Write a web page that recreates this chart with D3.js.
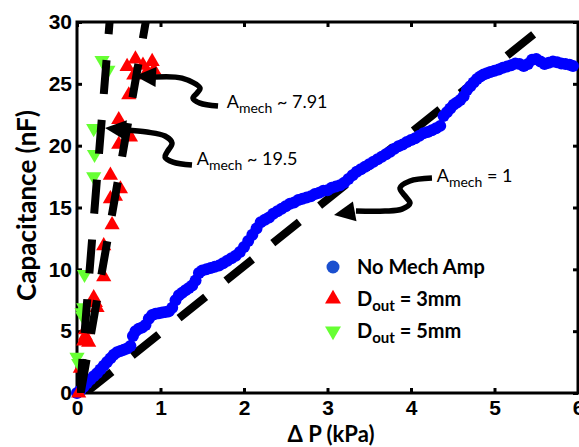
<!DOCTYPE html>
<html>
<head>
<meta charset="utf-8">
<script src="https://cdn.jsdelivr.net/npm/d3@7"></script>
<style>
	body { margin:0; background:#fff; }
	svg { display:block; }
	.tick text { font-family:"Liberation Sans", Arial, sans-serif; font-weight:bold; font-size:21px; fill:#000; }
	.tick line { stroke:#000; stroke-width:3; }
	.title { font-family:Lato, "Open Sans", sans-serif; font-weight:bold; fill:#000; }
	.note { font-family:Lato, "Open Sans", sans-serif; fill:#000; }
</style>
</head>
<body>
<svg width="579" height="447"></svg>
<script>
// no mechanical amplifier (blue circles)
var noAmpP = [0.00,0.04,0.08,0.12,0.16,0.20,0.24,0.28,0.32,0.36,0.40,0.44,0.48,0.52,0.56,0.60,0.64,0.67,0.70,0.74,
	0.78,0.82,0.86,0.90,0.94,0.98,1.02,1.06,1.10,1.14,1.18,1.22,1.26,1.30,1.34,1.38,1.42,1.46,1.50,1.55,
	1.60,1.65,1.70,1.75,1.80,1.85,1.90,1.95,2.00,2.05,2.10,2.15,2.20,2.25,2.30,2.35,2.40,2.45,2.50,2.55,
	2.60,2.65,2.70,2.75,2.80,2.85,2.90,2.95,3.00,3.05,3.10,3.15,3.20,3.25,3.30,3.35,3.40,3.45,3.50,3.55,
	3.60,3.65,3.70,3.75,3.80,3.85,3.90,3.95,4.00,4.05,4.10,4.15,4.20,4.25,4.30,4.35,4.39,4.43,4.47,4.51,
	4.55,4.59,4.63,4.67,4.71,4.75,4.79,4.83,4.87,4.91,4.95,5.00,5.05,5.10,5.15,5.20,5.25,5.30,5.35,5.40,
	5.45,5.50,5.55,5.60,5.65,5.70,5.75,5.80,5.85,5.90,5.94];
var noAmpC = [0.0,0.2,0.5,0.8,1.1,1.35,1.6,1.9,2.2,2.5,2.8,3.1,3.3,3.4,3.5,3.6,3.8,4.6,5.0,5.2,
	5.3,5.5,6.0,6.3,6.4,6.45,6.5,6.55,6.6,6.9,7.5,7.9,8.1,8.3,8.5,8.7,9.1,9.7,9.9,10.0,
	10.1,10.2,10.3,10.5,10.7,10.9,11.1,11.4,11.8,12.3,12.8,13.3,13.8,14.0,14.2,14.5,14.7,14.9,15.1,15.3,
	15.4,15.6,15.7,15.8,15.9,16.1,16.2,16.35,16.4,16.6,16.7,16.8,17.0,17.3,17.6,17.9,18.1,18.3,18.5,18.7,
	18.9,19.1,19.3,19.5,19.75,19.95,20.1,20.3,20.45,20.6,20.8,21.0,21.1,21.25,21.4,21.6,22.4,22.7,23.0,23.3,
	23.5,23.7,24.0,24.5,24.8,25.1,25.4,25.6,25.75,25.85,25.95,26.05,26.15,26.3,26.4,26.5,26.65,26.6,26.45,26.6,
	26.95,27.0,26.8,26.6,26.7,26.8,26.75,26.65,26.6,26.55,26.45];

// D_out = 3mm (red triangles)
var d3mmP = [0.02,0.04,0.08,0.10,0.14,0.10,0.20,0.24,0.22,0.32,0.32,0.42,0.40,0.40,0.46,0.52,0.50,0.50,0.60,0.64,
	0.62,0.60,0.68,0.70,0.79,0.90,0.92,0.84];
var d3mmC = [0.0,2.0,4.2,4.6,4.1,5.1,7.7,6.9,7.3,9.4,11.9,13.6,15.7,17.6,15.9,16.5,20.1,22.1,21.1,20.7,
	24.1,26.4,25.7,27.0,26.5,26.8,26.1,26.0];

// D_out = 5mm (green triangles)
var d5mmP = [0.00,0.02,0.06,0.08,0.07,0.09,0.20,0.21,0.20,0.30,0.37];
var d5mmC = [2.9,2.4,6.5,6.9,6.2,9.6,17.5,19.3,21.4,26.9,26.1];

// dashed linear fits: C = slope * (P - start)
var fitSlope = [5.4, 38.5, 84];
var fitStart = [0.1, 0.044, 0.033];
var fitEnd = [29.3, 31, 31];

var xTicks = [0,1,2,3,4,5,6];
var yTicks = [0,5,10,15,20,25,30];

var legendNames = ["No Mech Amp", "D|out| = 3mm", "D|out| = 5mm"];
var legendColors = ["#1a4fcf", "#ff0000", "#66ff33"];

// annotations, in data units
var noteRest = [" ~ 7.91", " ~ 19.5", " = 1"];
var noteAt = [[1.793,23.04],[1.434,18.43],[4.308,17.1]];
var arrowPaths = [
	[[1.689,23.20],[1.473,23.44],[1.389,23.85],[1.437,24.25],[1.473,24.66],[1.257,25.46],[0.934,25.55]],
	[[1.377,18.43],[1.150,18.67],[1.054,19.08],[1.078,19.48],[1.138,20.21],[1.054,20.78],[0.838,21.10],[0.575,21.26]],
	[[4.251,17.38],[3.988,17.14],[3.868,16.57],[3.940,15.84],[3.988,15.36],[3.892,14.87],[3.689,14.71],[3.341,14.71]]
];
var arrowTips = [[0.695,25.63],[0.335,21.42],[3.078,14.39]];

window.capChart = {
	svg : null,
	load:function(){
		var svg = this.svg = d3.select("svg");
		var x = this.x = d3.scaleLinear().domain([0,6]).range([77,578]);
		var y = this.y = d3.scaleLinear().domain([0,30]).range([393,22]);

		svg.append("defs").append("clipPath").attr("id","plotClip")
			.append("rect")
			.attr("x", x(0)).attr("y", y(30))
			.attr("width", x(6)-x(0)).attr("height", y(0)-y(30));

		this.axes();
		this.fits(0);
		this.points();
		this.fits(1);
		this.fits(2);
		this.notes();
		this.legend();
	},
	axes:function(){
		var svg = this.svg, x = this.x, y = this.y;
		var fmt = d3.format("d");

		svg.append("g").attr("transform","translate(0,"+y(0)+")")
			.call(d3.axisBottom(x).tickValues(xTicks).tickFormat(fmt).tickSizeInner(-5).tickSizeOuter(0).tickPadding(7))
			.call(function(g){ g.select(".domain").remove(); });
		svg.append("g").attr("transform","translate("+x(0)+",0)")
			.call(d3.axisLeft(y).tickValues(yTicks).tickFormat(fmt).tickSizeInner(-5).tickSizeOuter(0).tickPadding(5))
			.call(function(g){ g.select(".domain").remove(); });
		svg.append("g").attr("transform","translate(0,"+y(30)+")")
			.call(d3.axisTop(x).tickValues(xTicks).tickSizeInner(-5).tickSizeOuter(0).tickFormat(""))
			.call(function(g){ g.select(".domain").remove(); });
		svg.append("g").attr("transform","translate("+x(6)+",0)")
			.call(d3.axisRight(y).tickValues(yTicks).tickSizeInner(-5).tickSizeOuter(0).tickFormat(""))
			.call(function(g){ g.select(".domain").remove(); });

		svg.append("rect")
			.attr("x", x(0)).attr("y", y(30))
			.attr("width", x(6)-x(0)).attr("height", y(0)-y(30))
			.attr("fill","none").attr("stroke","#000").attr("stroke-width",3);

		svg.append("text").attr("class","title")
			.attr("transform","translate(36,"+(y(15)-2)+") rotate(-90)")
			.attr("text-anchor","middle")
			.style("font-size","26px")
			.text("Capacitance (nF)");

		svg.append("text").attr("class","title")
			.attr("x", 331).attr("y", 442)
			.attr("text-anchor","middle")
			.style("font-size","22px")
			.text("\u0394 P (kPa)");
	},
	fits:function(i){
		var x = this.x, y = this.y;
		var p0 = fitStart[i], p1 = fitStart[i] + fitEnd[i]/fitSlope[i];
		this.svg.append("line")
			.attr("clip-path","url(#plotClip)")
			.attr("x1", x(p0)).attr("y1", y(0))
			.attr("x2", x(p1)).attr("y2", y(fitEnd[i]))
			.attr("stroke","#000")
			.attr("stroke-width",8)
			.attr("stroke-dasharray","34,26");
	},
	points:function(){
		var x = this.x, y = this.y;
		this.svg.append("g").selectAll("circle")
			.data(d3.zip(noAmpP, noAmpC))
			.join("circle")
			.attr("cx", function(d){ return x(d[0]); })
			.attr("cy", function(d){ return y(d[1]); })
			.attr("r", 6)
			.attr("fill","#0000ff");

		var tri = d3.symbol(d3.symbolTriangle, 100);
		this.svg.append("g").selectAll("path")
			.data(d3.zip(d3mmP, d3mmC))
			.join("path")
			.attr("d", tri)
			.attr("transform", function(d){ return "translate("+x(d[0])+","+y(d[1])+")"; })
			.attr("fill","#ff0000");
		this.svg.append("g").selectAll("path")
			.data(d3.zip(d5mmP, d5mmC))
			.join("path")
			.attr("d", tri)
			.attr("transform", function(d){ return "translate("+x(d[0])+","+y(d[1])+") rotate(180)"; })
			.attr("fill","#66ff33");
	},
	notes:function(){
		var svg = this.svg, x = this.x, y = this.y;
		var line = d3.line()
			.x(function(d){ return x(d[0]); })
			.y(function(d){ return y(d[1]); })
			.curve(d3.curveCatmullRom);

		arrowPaths.forEach(function(pts, i){
			svg.append("path")
				.attr("d", line(pts))
				.attr("fill","none")
				.attr("stroke","#000")
				.attr("stroke-width",5.5);
			var b = pts[pts.length-1], t = arrowTips[i];
			var bx = x(b[0]), by = y(b[1]), tx = x(t[0]), ty = y(t[1]);
			var a = Math.atan2(ty-by, tx-bx);
			var hx = tx - 21*Math.cos(a), hy = ty - 21*Math.sin(a);
			var w = 10;
			svg.append("path")
				.attr("d", "M"+tx+","+ty+"L"+(hx - w*Math.sin(a))+","+(hy + w*Math.cos(a))
					+"L"+(hx + w*Math.sin(a))+","+(hy - w*Math.cos(a))+"Z")
				.attr("fill","#000");
		});

		noteRest.forEach(function(r, i){
			var t = svg.append("text").attr("class","note")
				.attr("x", x(noteAt[i][0])).attr("y", y(noteAt[i][1]))
				.style("font-size","18px");
			t.append("tspan").text("A");
			t.append("tspan").attr("dy",5).style("font-size","14px").text("mech");
			t.append("tspan").attr("dy",-5).text(r);
		});
	},
	legend:function(){
		var svg = this.svg;
		var g = svg.append("g").attr("transform","translate(333,267)");
		legendNames.forEach(function(name, i){
			var row = g.append("g").attr("transform","translate(0,"+(i*32)+")");
			if(i == 0){
				row.append("circle").attr("r",6.5).attr("fill",legendColors[0]);
			} else {
				row.append("path")
					.attr("d", d3.symbol(d3.symbolTriangle, 110)())
					.attr("transform", i == 2 ? "rotate(180)" : null)
					.attr("fill", legendColors[i]);
			}
			var parts = name.split("|");
			var t = row.append("text").attr("class","title")
				.attr("x",24).attr("y",7)
				.style("font-size","20px");
			t.append("tspan").text(parts[0]);
			if(parts.length > 1){
				t.append("tspan").attr("dy",5).style("font-size","15px").text(parts[1]);
				t.append("tspan").attr("dy",-5).text(parts[2]);
			}
		});
	}
};

window.capChart.load();
</script>
</body>
</html>
